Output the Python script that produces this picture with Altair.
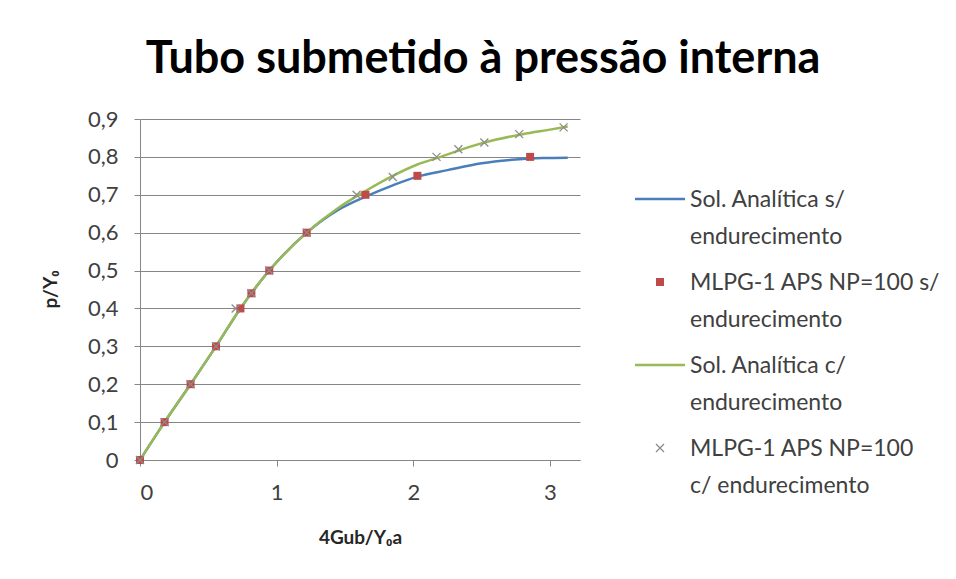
import altair as alt
import pandas as pd

# Series names
S1 = "Sol. Analítica s/ endurecimento"
S2 = "MLPG-1 APS NP=100 s/ endurecimento"
S3 = "Sol. Analítica c/ endurecimento"
S4 = "MLPG-1 APS NP=100 c/ endurecimento"
series_order = [S1, S2, S3, S4]

# Two-line legend labels
legend_lines = {
    S1: ["Sol. Analítica s/", "endurecimento"],
    S2: ["MLPG-1 APS NP=100 s/", "endurecimento"],
    S3: ["Sol. Analítica c/", "endurecimento"],
    S4: ["MLPG-1 APS NP=100", "c/ endurecimento"],
}

# Analytical solution without hardening
an_s_x = [0, 0.18, 0.37, 0.556, 0.735, 0.946, 1.22, 1.45, 1.65, 1.85, 2.03, 2.25, 2.5, 2.75, 2.95, 3.13]
an_s_y = [0, 0.1, 0.2, 0.3, 0.4, 0.5, 0.6, 0.66, 0.695, 0.725, 0.748, 0.765, 0.783, 0.793, 0.797, 0.798]

# Analytical solution with hardening
an_c_x = [0, 0.18, 0.37, 0.556, 0.735, 0.946, 1.22, 1.45, 1.65, 1.85, 2.03, 2.2, 2.4, 2.6, 2.8, 3.0, 3.13]
an_c_y = [0, 0.1, 0.2, 0.3, 0.4, 0.5, 0.6, 0.665, 0.71, 0.75, 0.78, 0.80, 0.825, 0.845, 0.86, 0.872, 0.88]

# MLPG-1 APS NP=100 without hardening
mlpg_s_x = [0, 0.18, 0.37, 0.556, 0.735, 0.815, 0.946, 1.22, 1.65, 2.03, 2.855]
mlpg_s_y = [0, 0.1, 0.2, 0.3, 0.4, 0.44, 0.5, 0.6, 0.7, 0.75, 0.8]

# MLPG-1 APS NP=100 with hardening
mlpg_c_x = [0, 0.18, 0.37, 0.556, 0.7, 0.815, 0.946, 1.22, 1.585, 1.85, 2.17, 2.33, 2.52, 2.775, 3.1]
mlpg_c_y = [0, 0.1, 0.2, 0.3, 0.4, 0.44, 0.5, 0.6, 0.70, 0.747, 0.80, 0.82, 0.838, 0.86, 0.878]

y_ticks = [0, 0.1, 0.2, 0.3, 0.4, 0.5, 0.6, 0.7, 0.8, 0.9]
x_ticks = [0, 1, 2, 3]

BLUE = "#4a7ebb"
RED = "#be4b48"
GREEN = "#98b954"
GRAY = "#8c8c8c"

# Symbol outlines in the unit box; every symbol is drawn at the same size,
# so the proportions live in the paths themselves.
LINE_PATH = "M-1,-0.05L1,-0.05L1,0.05L-1,0.05Z"
SQUARE_PATH = "M-0.16,-0.16L0.16,-0.16L0.16,0.16L-0.16,0.16Z"
CROSS_PATH = (
    "M-0.142,-0.178L0.178,0.142L0.142,0.178L-0.178,-0.142Z"
    "M0.178,-0.142L-0.142,0.178L-0.178,0.142L0.142,-0.178Z"
)
SYMBOL_SIZE = 2500

lines_df = pd.concat([
    pd.DataFrame({"x": an_s_x, "y": an_s_y, "serie": S1}),
    pd.DataFrame({"x": an_c_x, "y": an_c_y, "serie": S3}),
], ignore_index=True)
lines_df["ordem"] = range(len(lines_df))

pts_df = pd.concat([
    pd.DataFrame({"x": mlpg_s_x, "y": mlpg_s_y, "serie": S2}),
    pd.DataFrame({"x": mlpg_c_x, "y": mlpg_c_y, "serie": S4}),
], ignore_index=True)

FONT = "Lato"
LABEL_SHIFT = 10  # labels are raised by this much; axes compensate below

label_expr = " : ".join(
    f"datum.label == '{k}' ? {legend_lines[k]!r}" for k in series_order
) + " : datum.label"

legend = alt.Legend(
    title=None,
    orient="none",
    legendX=495,
    legendY=55,
    labelExpr=label_expr,
    labelFont=FONT,
    labelFontSize=23,
    labelColor="#404040",
    labelBaseline="top",
    labelOffset=5,
    labelLimit=400,
    rowPadding=8,
    padding=0,
    symbolSize=SYMBOL_SIZE,
    symbolStrokeWidth=0,
)

color_scale = alt.Scale(domain=series_order, range=[BLUE, RED, GREEN, GRAY])
shape_scale = alt.Scale(domain=series_order, range=[LINE_PATH, SQUARE_PATH, LINE_PATH, CROSS_PATH])

x_enc = alt.X(
    "x:Q",
    scale=alt.Scale(domain=[0, 3.22], nice=False, zero=False),
    axis=alt.Axis(
        values=x_ticks,
        title="4Gub/Y₀a",
        grid=False,
        tickSize=6,
        labelPadding=16 + LABEL_SHIFT,
        titleX=220,
        titleY=77,
        titleBaseline="middle",
    ),
)
y_enc = alt.Y(
    "y:Q",
    scale=alt.Scale(domain=[0, 0.9], nice=False),
    axis=alt.Axis(
        values=y_ticks,
        title="p/Y₀",
        labelExpr="datum.value == 0 ? '0' : replace(format(datum.value, '.1f'), '.', ',')",
        tickSize=6,
        labelPadding=16,
        labelOffset=LABEL_SHIFT,
        titleAngle=-90,
        titleX=-90,
        titleY=170,
        titleBaseline="middle",
    ),
)

lines = alt.Chart(lines_df).mark_line(interpolate="monotone", strokeWidth=2.5).encode(
    x=x_enc,
    y=y_enc,
    color=alt.Color("serie:N", scale=color_scale, legend=legend),
    order="ordem:Q",
)

points = alt.Chart(pts_df).mark_point(
    filled=True, opacity=1, size=SYMBOL_SIZE
).encode(
    x=x_enc,
    y=y_enc,
    shape=alt.Shape("serie:N", scale=shape_scale, legend=legend),
    color=alt.Color("serie:N", scale=color_scale, legend=legend),
)

chart = alt.layer(lines, points).properties(
    width=440,
    height=341,
    autosize=alt.AutoSizeParams(type="none"),
    padding={"left": 140, "top": 119, "right": 376, "bottom": 119},
    title=alt.TitleParams(
        "Tubo submetido à pressão interna",
        font=FONT,
        fontSize=45,
        fontWeight="bold",
        color="#000000",
        anchor="middle",
        dx=123,
        dy=53,
        offset=34,
        baseline="bottom",
    ),
).configure(
    background="white",
    style={"guide-label": {"lineHeight": 37, "dy": -LABEL_SHIFT}},
).configure_view(
    stroke=None,
).configure_axis(
    labelFont=FONT,
    labelFontSize=22,
    labelColor="#404040",
    titleFont=FONT,
    titleFontSize=19,
    titleFontWeight="bold",
    titleColor="#262626",
    domainColor="#868686",
    tickColor="#868686",
    gridColor="#868686",
    domainWidth=1,
    tickWidth=1,
    gridWidth=1,
)

chart.save("out.html", embed_options={"renderer": "svg", "actions": False})
